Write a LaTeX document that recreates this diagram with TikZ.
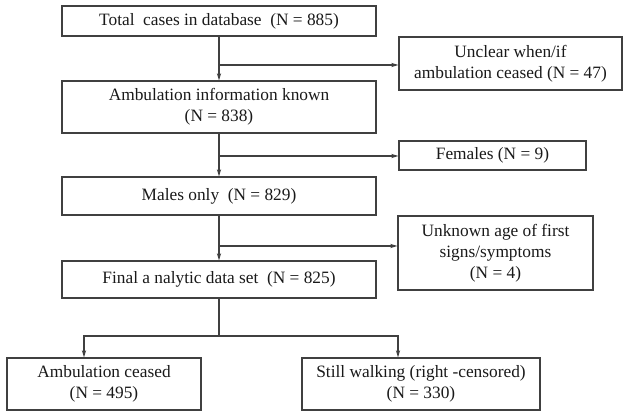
\documentclass[tikz,border=0pt]{standalone}
\usepackage{fontspec}
\setmainfont{Liberation Serif}
\usetikzlibrary{arrows.meta}

\begin{document}
\begin{tikzpicture}[
    x=0.75pt, y=-0.75pt,
    font=\fontsize{13}{15.75}\selectfont,
    box/.style={rectangle,draw=black!75,line width=0.8pt,text=black!90,align=center,inner sep=0pt},
    line/.style={draw=black!75,line width=0.8pt},
    arrow/.style={line,-{Stealth[length=5.5pt,width=3.2pt]}}
]
\useasboundingbox (0,0) rectangle (629,417);

% Main chain
\node[box,minimum width=235.5pt,minimum height=22.5pt] (total) at (219,21) {Total\ \ cases in database\ \ (N = 885)};
\node[box,minimum width=235.5pt,minimum height=39pt] (known) at (219,107) {Ambulation information known\\(N = 838)};
\node[box,minimum width=235.5pt,minimum height=28.5pt] (males) at (219,196) {Males only\ \ (N = 829)};
\node[box,minimum width=235.5pt,minimum height=27.75pt] (final) at (219,279.5) {Final a nalytic data set\ \ (N = 825)};

% Excluded cases
\node[box,minimum width=167.25pt,minimum height=39.75pt] (unclear) at (510.5,63.5) {Unclear when/if\\ambulation ceased (N = 47)};
\node[box,minimum width=140.25pt,minimum height=21.75pt] (females) at (492.5,155.5) {Females (N = 9)};
\node[box,minimum width=146.25pt,minimum height=55.5pt] (unknown) at (495.5,253) {Unknown age of first\\signs/symptoms\\(N = 4)};

% Outcomes
\node[box,minimum width=145.5pt,minimum height=39pt] (ceased) at (104,384) {Ambulation ceased\\(N = 495)};
\node[box,minimum width=178.5pt,minimum height=39pt] (walking) at (421,384) {Still walking (right -censored)\\(N = 330)};

\draw[arrow] (total) -- (known);
\draw[arrow] (known) -- (males);
\draw[arrow] (males) -- (final);

% Branches to the right
\coordinate (b1) at (219,65);
\coordinate (b2) at (219,156);
\coordinate (b3) at (219,246);
\draw[arrow] (b1) -- (unclear.west |- b1);
\draw[arrow] (b2) -- (females.west |- b2);
\draw[arrow] (b3) -- (unknown.west |- b3);

% Split at the bottom
\coordinate (split) at (219,336);
\coordinate (sl) at (84,336);
\coordinate (sr) at (398,336);
\draw[line] (final) -- (split);
\draw[arrow] (split) -- (sl) -- (sl |- ceased.north);
\draw[arrow] (split) -- (sr) -- (sr |- walking.north);

\end{tikzpicture}
\end{document}
